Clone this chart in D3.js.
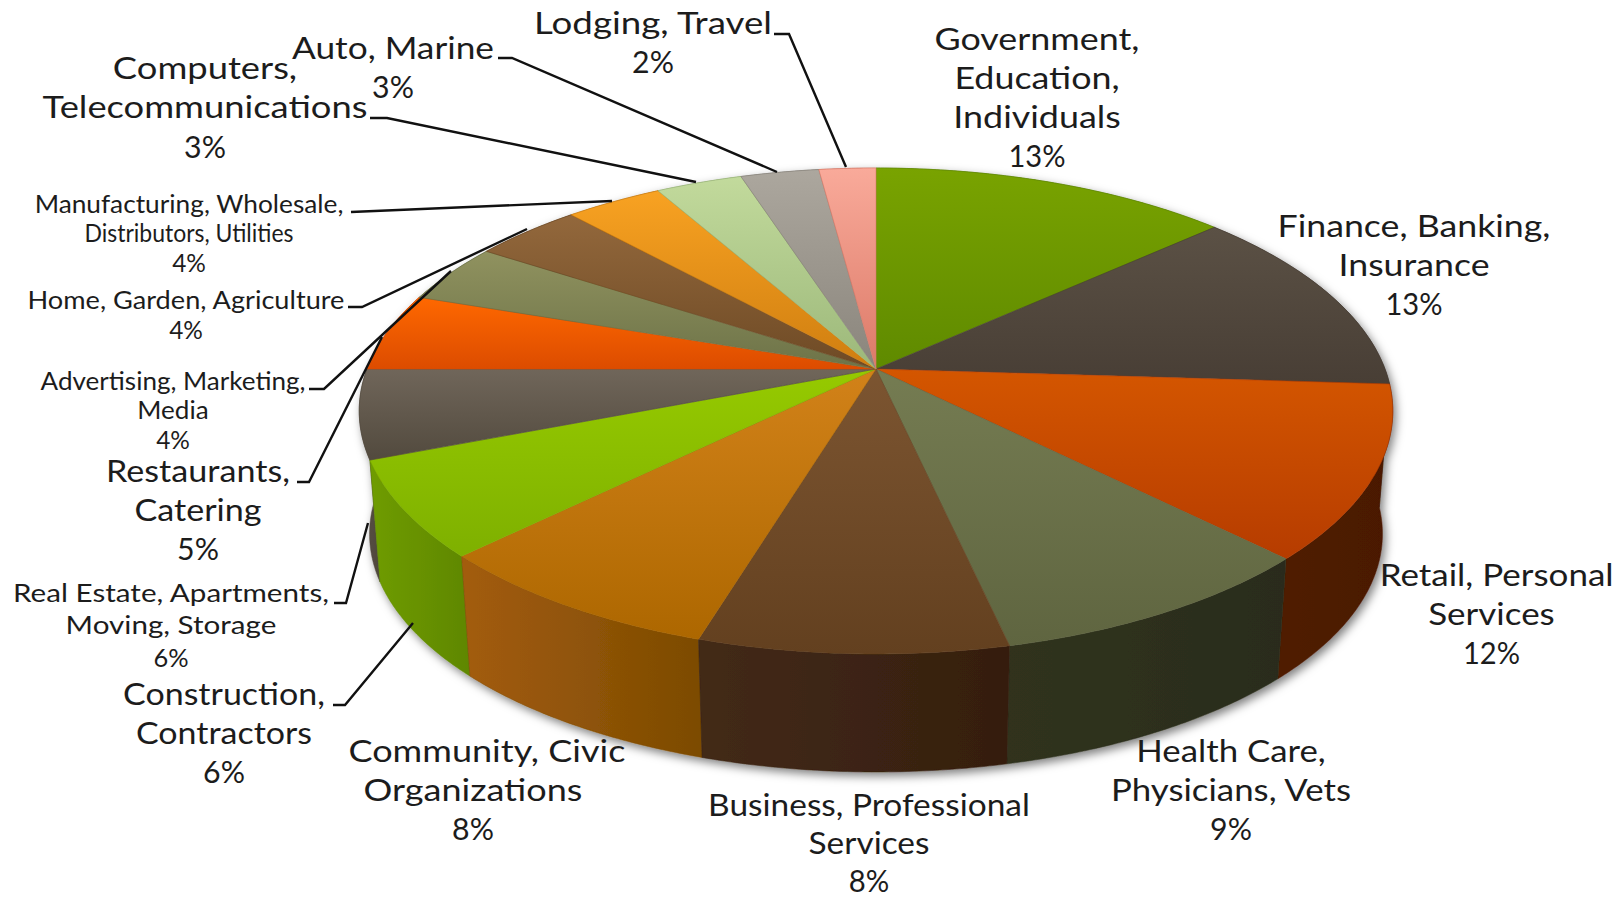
<!DOCTYPE html>
<html>
<head>
<meta charset="utf-8">
<script src="https://cdn.jsdelivr.net/npm/d3@7"></script>
<style>
    html, body { margin: 0; padding: 0; background: #fff; }
    svg { display: block; }
    text { font-family: Lato, "Open Sans", sans-serif; fill: #1c1c1c; text-anchor: middle; }
</style>
</head>
<body>
<svg id="chart"></svg>
<script>
// Chart data (clockwise from 12 o'clock)
const categories = [
    "Government, Education, Individuals", "Finance, Banking, Insurance", "Retail, Personal Services",
    "Health Care, Physicians, Vets", "Business, Professional Services", "Community, Civic Organizations",
    "Construction, Contractors", "Real Estate, Apartments, Moving, Storage", "Restaurants, Catering",
    "Advertising, Marketing, Media", "Home, Garden, Agriculture", "Manufacturing, Wholesale, Distributors, Utilities",
    "Computers, Telecommunications", "Auto, Marine", "Lodging, Travel"
];
const values = [13.3, 12.7, 11.5, 9.0, 8.2, 8.0, 6.4, 5.9, 5.2, 4.0, 4.0, 3.6, 3.2, 2.9, 2.1];

// How each category label wraps
const labelLines = [
    ["Government,", "Education,", "Individuals"], ["Finance, Banking,", "Insurance"], ["Retail, Personal", "Services"],
    ["Health Care,", "Physicians, Vets"], ["Business, Professional", "Services"], ["Community, Civic", "Organizations"],
    ["Construction,", "Contractors"], ["Real Estate, Apartments,", "Moving, Storage"], ["Restaurants,", "Catering"],
    ["Advertising, Marketing,", "Media"], ["Home, Garden, Agriculture"], ["Manufacturing, Wholesale,", "Distributors, Utilities"],
    ["Computers,", "Telecommunications"], ["Auto, Marine"], ["Lodging, Travel"]
];

// Slice colours: top of the slice, bottom of the slice, wall left, wall right
const topLight = ["#79a300", "#5b5145", "#d45600", "#757c52", "#7c5531", "#d28219", "#96ca00", "#70665a", "#ff6800", "#90925f", "#93683c", "#f8a222", "#c2da9c", "#aca79e", "#f9aa9a"];
const topDark = ["#5f8a00", "#483e35", "#b63c00", "#5f6540", "#63401f", "#ad6700", "#7eb000", "#524a3e", "#dc4c00", "#6d7348", "#6e4a25", "#cf7e10", "#9cb87a", "#8a857c", "#dc7a68"];
const wallLight = ["#5f8a00", "#483e35", "#501c00", "#30331f", "#432a16", "#a35c10", "#6f9c00", "#5a5246", "#dc4c00", "#6d7348", "#6e4a25", "#cf7e10", "#9cb87a", "#8a857c", "#dc7a68"];
const wallDark = ["#4d7000", "#3a3229", "#4a1900", "#2a2c1a", "#351e0f", "#7c4b00", "#5f8700", "#4f473c", "#b84000", "#5a5f3c", "#5a3c1e", "#aa680c", "#809964", "#716d66", "#b56455"];

// Label placement: centre x, first baseline, font size, line step, longest line width,
// x shift of first line, width of second line where it runs narrower than the rest
const labelLayout = [
    { x: 1037, y: 50, size: 31, step: 39, width: 205 },
    { x: 1414, y: 237, size: 31, step: 39, width: 273 },
    { x: 1491.5, y: 586, size: 31, step: 39, width: 234, shift: 4.5 },
    { x: 1231, y: 762, size: 31, step: 39, width: 240 },
    { x: 869, y: 816, size: 30, step: 38.25, width: 322 },
    { x: 473, y: 762, size: 31, step: 39, width: 277, shift: 12 },
    { x: 224, y: 705, size: 31, step: 39, width: 202 },
    { x: 171, y: 602, size: 26, step: 32.5, width: 316 },
    { x: 198, y: 482, size: 31, step: 39, width: 184 },
    { x: 173, y: 390, size: 25, step: 29.5, width: 265 },
    { x: 186, y: 309, size: 25, step: 30, width: 317 },
    { x: 189, y: 213, size: 25, step: 29.5, width: 309, second: 209 },
    { x: 205, y: 79, size: 31, step: 39.5, width: 325 },
    { x: 393, y: 59, size: 31, step: 39, width: 202 },
    { x: 653, y: 34, size: 31, step: 39, width: 238 }
];

// Leader lines, from the label out to the pie edge
const leaders = [
    [[333, 705], [345, 705], [413, 623]],
    [[334, 603], [346, 603], [368, 523]],
    [[297, 482], [309, 482], [382, 337]],
    [[309, 389], [324, 389], [451, 271]],
    [[348, 307], [362, 307], [527, 229]],
    [[351, 212], [612, 201]],
    [[370, 118], [387, 118], [696, 182]],
    [[498, 58], [512, 58], [777, 172]],
    [[774, 34], [789, 34], [846, 167]]
];

const width = 1623;
const height = 899;

// Perspective of the pie disc
const cx = 876, cy = 369;
const radiusX = 509, radiusY = 235.7;
const tilt = 0.1728;
const wallDrop = 123.7;
const wallShrink = 0.98;

// Percent signs run narrow in the picture: label width per font size
const percentWidth = { 2: 1.35, 3: 1.84 };

const svg = d3.select("#chart")
    .attr("width", width)
    .attr("height", height)
    .attr("viewBox", `0 0 ${width} ${height}`);

const defs = svg.append("defs");

// Soft shadow under the pie walls
const shadow = defs.append("filter")
    .attr("id", "wallShadow")
    .attr("x", "-10%").attr("y", "-10%")
    .attr("width", "120%").attr("height", "125%");
shadow.append("feDropShadow")
    .attr("dx", 3).attr("dy", 4)
    .attr("stdDeviation", 5)
    .attr("flood-color", "#000")
    .attr("flood-opacity", 0.5);

categories.forEach((c, i) => {
    const topGrad = defs.append("linearGradient")
        .attr("id", `top${i}`)
        .attr("x1", 0).attr("y1", 0).attr("x2", 0).attr("y2", 1);
    topGrad.append("stop").attr("offset", 0).attr("stop-color", topLight[i]);
    topGrad.append("stop").attr("offset", 1).attr("stop-color", topDark[i]);

    const wallGrad = defs.append("linearGradient")
        .attr("id", `wall${i}`)
        .attr("x1", 0).attr("y1", 0).attr("x2", 1).attr("y2", 0);
    wallGrad.append("stop").attr("offset", 0).attr("stop-color", wallLight[i]);
    wallGrad.append("stop").attr("offset", 1).attr("stop-color", wallDark[i]);
});

// Project a pie angle on to the top disc (or the lower rim of the wall)
function project(angle, radius, lower) {
    const px = Math.sin(angle) * radius;
    const py = -Math.cos(angle) * radius;
    const d = 1 - tilt * py;
    const s = lower ? wallShrink : 1;
    return [
        cx + s * radiusX * px / d,
        cy + (lower ? wallDrop : 0) + s * radiusY * py / d
    ];
}

function arcAngles(d) {
    const n = Math.max(4, Math.ceil((d.endAngle - d.startAngle) / 0.01));
    return d3.range(n + 1).map(k => d.startAngle + (d.endAngle - d.startAngle) * k / n);
}

const pie = d3.pie().sort(null).value(d => d.value);
const slices = pie(categories.map((name, i) => ({ name, value: values[i], index: i })));
const line = d3.line();

// Walls first, back slices before front ones
const wallOrder = slices.slice().sort((a, b) =>
    -Math.cos((a.startAngle + a.endAngle) / 2) - -Math.cos((b.startAngle + b.endAngle) / 2));

svg.append("g")
    .attr("filter", "url(#wallShadow)")
    .selectAll("path")
    .data(wallOrder)
    .join("path")
    .attr("d", d => {
        const angles = arcAngles(d);
        const upper = angles.map(a => project(a, 1, false));
        const lower = angles.slice().reverse().map(a => project(a, 1, true));
        return line(upper.concat(lower)) + "Z";
    })
    .attr("fill", d => `url(#wall${d.data.index})`)
    .attr("stroke", d => wallDark[d.data.index])
    .attr("stroke-width", 0.5);

// Top of the pie
svg.append("g")
    .selectAll("path")
    .data(slices)
    .join("path")
    .attr("d", d => line([[cx, cy]].concat(arcAngles(d).map(a => project(a, 1, false)))) + "Z")
    .attr("fill", d => `url(#top${d.data.index})`)
    .attr("stroke", d => topDark[d.data.index])
    .attr("stroke-width", 0.6);

// Leader lines
svg.append("g")
    .selectAll("path")
    .data(leaders)
    .join("path")
    .attr("d", d => line(d))
    .attr("fill", "none")
    .attr("stroke", "#111")
    .attr("stroke-width", 2.4);

// Labels: name lines then the rounded percentage
const labels = svg.append("g")
    .selectAll("g")
    .data(slices)
    .join("g")
    .attr("font-size", d => labelLayout[d.data.index].size);

labels.each(function (d) {
    const i = d.data.index;
    const box = labelLayout[i];
    const g = d3.select(this);
    const percent = d3.format(".0f")(d.data.value) + "%";
    const lines = labelLines[i].concat(percent);

    const texts = g.selectAll("text")
        .data(lines)
        .join("text")
        .attr("x", (t, k) => (k === 0 && box.shift) ? box.shift : 0)
        .attr("y", (t, k) => k * box.step)
        .text(t => t);

    // Squeeze or stretch the label to the width it has in the picture
    const longest = d3.max(texts.nodes(), n => n.getComputedTextLength());
    const stretch = box.width / longest;
    g.attr("transform", `translate(${box.x},${box.y}) scale(${stretch},1)`);

    texts.filter((t, k) => k === lines.length - 1)
        .attr("textLength", box.size * percentWidth[percent.length] / stretch)
        .attr("lengthAdjust", "spacingAndGlyphs");
    if (box.second) {
        texts.filter((t, k) => k === 1)
            .attr("textLength", box.second / stretch)
            .attr("lengthAdjust", "spacingAndGlyphs");
    }
});
</script>
</body>
</html>
